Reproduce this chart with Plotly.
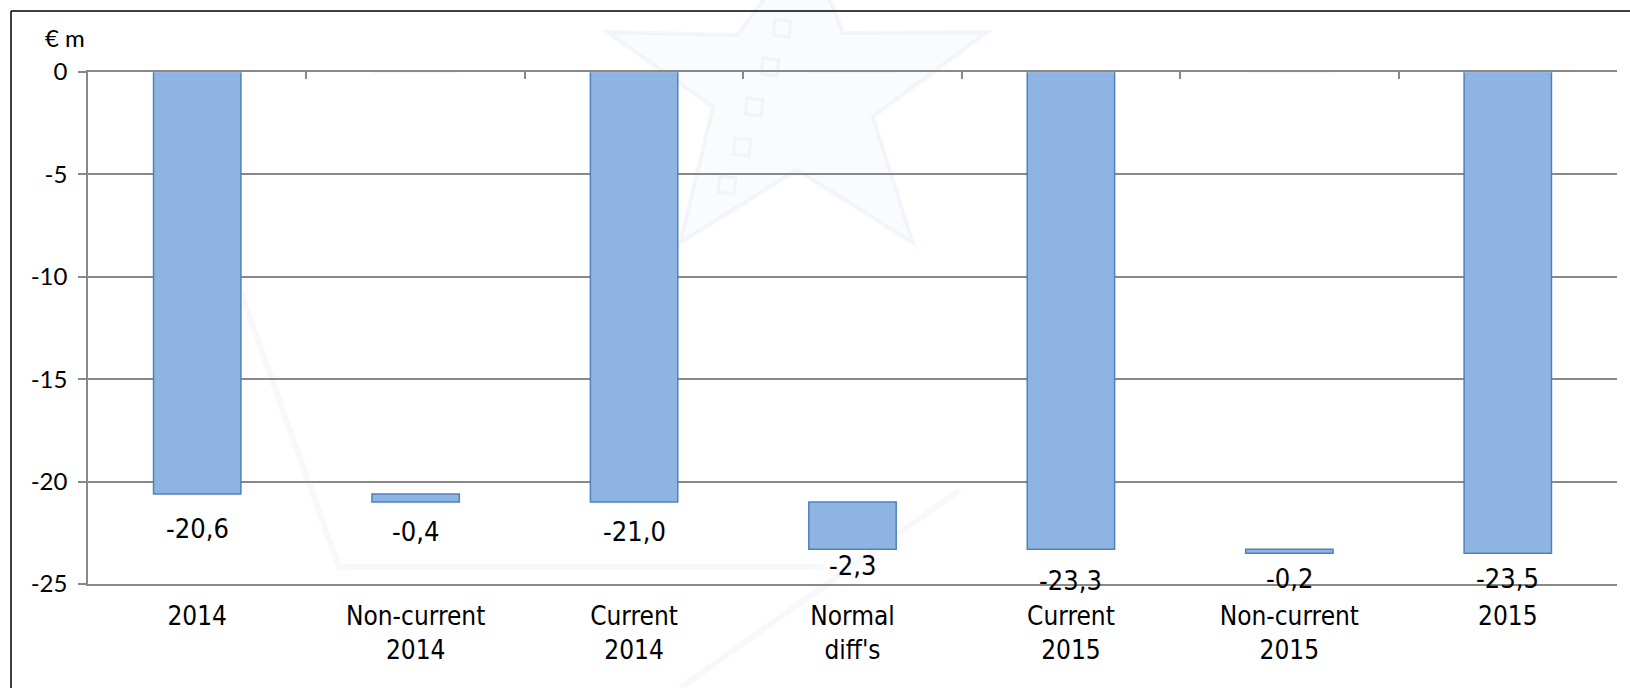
import plotly.graph_objects as go

# Bridge of the result from 2014 to 2015 (€ m)
categories = ["2014", "Non-current<br>2014", "Current<br>2014", "Normal<br>diff's",
              "Current<br>2015", "Non-current<br>2015", "2015"]
values = [-20.6, -0.4, -21.0, -2.3, -23.3, -0.2, -23.5]
bases = [0, -20.6, 0, -21.0, 0, -23.3, 0]
y_ticks = [0, -5, -10, -15, -20, -25]
y_tick_labels = ["0", "-5", "-10", "-15", "-20", "-25"]
unit_label = "€ m"

# pixel offsets of the value labels below each bar end
label_offsets = [35, 29, 29, 16, 31, 25, 25]

W, H = 1630, 688
M_L, M_R, M_T, M_B = 88, 13, 72, 104
PW, PH = W - M_L - M_R, H - M_T - M_B

GRID = "#898989"
LABEL_FONT = "DejaVu Sans Condensed, DejaVu Sans, sans-serif"
TICK_FONT = "Lato, Open Sans, sans-serif"


def px(x):
    return (x - M_L) / PW


def py(y):
    return (H - M_B - y) / PH


def path(points):
    return "M " + " L ".join(f"{px(x):.5f},{py(y):.5f}" for x, y in points) + " Z"


fig = go.Figure()
fig.add_trace(go.Bar(
    x=categories, y=values, base=bases, width=0.4,
    marker=dict(color="#8EB4E3", line=dict(color="#4F81BD", width=1.5)),
    hoverinfo="skip", showlegend=False,
))
# invisible twin so the boundary ticks along the zero line get drawn
fig.add_trace(go.Bar(
    x=categories, y=[0] * len(categories), xaxis="x2", width=0.4,
    marker=dict(color="rgba(0,0,0,0)"), hoverinfo="skip", showlegend=False,
))

annotations = []
for i, (v, b, off) in enumerate(zip(values, bases, label_offsets)):
    end = b + v
    annotations.append(dict(
        x=i, y=end, xref="x", yref="y", text=f"{v:.1f}".replace(".", ","),
        showarrow=False, yanchor="middle", yshift=-off,
        font=dict(family=LABEL_FONT, size=27, color="#000000"),
    ))

# unit label above the value axis
annotations.append(dict(
    x=px(65), y=py(37), xref="paper", yref="paper",
    text=unit_label, showarrow=False, xanchor="center", yanchor="middle",
    font=dict(family=TICK_FONT, size=24, color="#000000"),
))

WM_LINE = "rgba(228,235,245,0.45)"
shapes = [
    # faint star watermark in the background
    dict(type="path", xref="paper", yref="paper", layer="below",
         path=path([(807, -59), (843, 33), (987, 32), (873, 117), (913, 243),
                    (797, 170), (680, 243), (713, 107), (607, 32), (737, 35)]),
         fillcolor="rgba(238,243,250,0.3)", line=dict(color=WM_LINE, width=4)),
    # faint background strokes
    dict(type="path", xref="paper", yref="paper", layer="below",
         path="M {:.5f},{:.5f} L {:.5f},{:.5f} L {:.5f},{:.5f}".format(
             px(241), py(293), px(339), py(567), px(823), py(567)),
         line=dict(color="rgba(232,238,246,0.4)", width=6)),
    dict(type="line", xref="paper", yref="paper", layer="below",
         x0=px(680), y0=py(688), x1=px(960), y1=py(490),
         line=dict(color="rgba(232,238,246,0.4)", width=6)),
    # outer frame (left and top edges)
    dict(type="line", xref="paper", yref="paper", x0=px(11), x1=1.2, y0=py(11), y1=py(11),
         line=dict(color="#000000", width=1.5), layer="below"),
    dict(type="line", xref="paper", yref="paper", x0=px(11), x1=px(11), y0=py(11), y1=py(H + 5),
         line=dict(color="#000000", width=1.5), layer="below"),
]
# film-strip squares on the star
for cx, cy in [(782, 28), (770, 67), (754, 107), (742, 147), (727, 185)]:
    shapes.append(dict(
        type="path", xref="paper", yref="paper", layer="below",
        path=path([(cx - 7, cy - 9), (cx + 9, cy - 7), (cx + 7, cy + 9), (cx - 9, cy + 7)]),
        line=dict(color=WM_LINE, width=3)))

fig.update_layout(
    width=W, height=H, autosize=False,
    margin=dict(l=M_L, r=M_R, t=M_T, b=M_B, pad=0),
    paper_bgcolor="#FFFFFF", plot_bgcolor="rgba(0,0,0,0)",
    xaxis=dict(
        type="category", range=[-0.5, 6.5], showline=True, linecolor=GRID, linewidth=1.5,
        ticks="", showgrid=False, zeroline=False,
        tickfont=dict(family=LABEL_FONT, size=26, color="#000000"),
        ticklabelstandoff=8,
    ),
    xaxis2=dict(
        type="category", overlaying="x", matches="x", side="top", showline=True,
        linecolor=GRID, linewidth=1.5, ticks="inside", tickson="boundaries",
        ticklen=7, tickwidth=1.5, tickcolor=GRID,
        showticklabels=False, showgrid=False, zeroline=False,
    ),
    yaxis=dict(
        range=[-25, 0], tickvals=y_ticks, ticktext=y_tick_labels,
        showline=True, linecolor=GRID, linewidth=1.5,
        ticks="outside", ticklen=8, tickwidth=1.5, tickcolor=GRID,
        showgrid=True, gridcolor=GRID, gridwidth=1.5, zeroline=False,
        tickfont=dict(family=TICK_FONT, size=24, color="#000000"),
        ticklabelstandoff=6,
    ),
    annotations=annotations,
    shapes=shapes,
)

fig.write_html("out.html")
